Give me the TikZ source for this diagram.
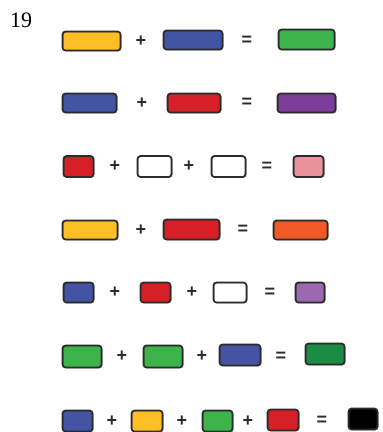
\documentclass[tikz,border=0pt]{standalone}
\usepackage{fontspec}
\setmainfont{Liberation Serif}
\newfontfamily\signfont{Liberation Sans}
\definecolor{cyellow}{HTML}{FDBE26}
\definecolor{cblue}{HTML}{4254A3}
\definecolor{cgreen}{HTML}{3DB34B}
\definecolor{cred}{HTML}{D71F27}
\definecolor{cpurple}{HTML}{7D3C98}
\definecolor{cpink}{HTML}{EA939C}
\definecolor{corange}{HTML}{F15A24}
\definecolor{clilac}{HTML}{9C68B0}
\definecolor{cdkgreen}{HTML}{1C8C44}
\definecolor{cink}{HTML}{2B2B2B}
\tikzset{
  % crayon-like box: rounded outline with a second, slightly offset stroke
  paint/.style={draw=cink, line width=1.7pt, rounded corners=3pt,
    inner sep=0pt, outer sep=0pt,
    postaction={draw=cink, draw opacity=0.5, line width=0.7pt,
      transform canvas={shift={(0.7pt,-0.6pt)}}}},
  sign/.style={text=cink, font=\signfont\bfseries\fontsize{18}{18}\selectfont,
    inner sep=0pt},
}
\begin{document}
\begin{tikzpicture}[x=1pt, y=-1pt]
\useasboundingbox (0,0) rectangle (383,432);
\fill[white] (0,0) rectangle (383,432);

\node[anchor=base west, font=\fontsize{22}{22}\selectfont, inner sep=0pt] (num) at (10,27.5) {19};

% yellow + blue = green
\node[paint, fill=cyellow, minimum width=58pt, minimum height=19pt] (a1) at (91.5,41) {};
\node[sign] (a2) at (141,41) {+};
\node[paint, fill=cblue, minimum width=59pt, minimum height=19pt] (a3) at (193,40) {};
\node[sign] (a4) at (247,41) {=};
\node[paint, fill=cgreen, minimum width=56pt, minimum height=20pt] (a5) at (306.5,39.5) {};

% blue + red = purple
\node[paint, fill=cblue, minimum width=54pt, minimum height=19pt] (b1) at (89.5,103) {};
\node[sign] (b2) at (142,103) {+};
\node[paint, fill=cred, minimum width=53pt, minimum height=19pt] (b3) at (194,103) {};
\node[sign] (b4) at (247,103) {=};
\node[paint, fill=cpurple, minimum width=58pt, minimum height=19pt] (b5) at (306.5,103) {};

% red + white + white = pink
\node[paint, fill=cred, minimum width=30pt, minimum height=21pt] (c1) at (78.5,166.5) {};
\node[sign] (c2) at (115,166.5) {+};
\node[paint, fill=white, minimum width=34pt, minimum height=21pt] (c3) at (154.5,166.5) {};
\node[sign] (c4) at (189,166.5) {+};
\node[paint, fill=white, minimum width=34pt, minimum height=21pt] (c5) at (228.5,166.5) {};
\node[sign] (c6) at (267,166.5) {=};
\node[paint, fill=cpink, minimum width=30pt, minimum height=21pt] (c7) at (308.5,166.5) {};

% yellow + red = orange
\node[paint, fill=cyellow, minimum width=55pt, minimum height=19pt] (d1) at (90,230) {};
\node[sign] (d2) at (141,230) {+};
\node[paint, fill=cred, minimum width=56pt, minimum height=20pt] (d3) at (191.5,229.5) {};
\node[sign] (d4) at (243,230) {=};
\node[paint, fill=corange, minimum width=54pt, minimum height=19pt] (d5) at (300.5,230) {};

% blue + red + white = lilac
\node[paint, fill=cblue, minimum width=30pt, minimum height=20pt] (e1) at (78.5,292.5) {};
\node[sign] (e2) at (115,292.5) {+};
\node[paint, fill=cred, minimum width=30pt, minimum height=20pt] (e3) at (155.5,292.5) {};
\node[sign] (e4) at (192,292.5) {+};
\node[paint, fill=white, minimum width=33pt, minimum height=20pt] (e5) at (230,292.5) {};
\node[sign] (e6) at (270,292.5) {=};
\node[paint, fill=clilac, minimum width=29pt, minimum height=20pt] (e7) at (310,292.5) {};

% green + green + blue = dark green
\node[paint, fill=cgreen, minimum width=39pt, minimum height=22pt] (f1) at (82,356.5) {};
\node[sign] (f2) at (122,356.5) {+};
\node[paint, fill=cgreen, minimum width=39pt, minimum height=22pt] (f3) at (163,356.5) {};
\node[sign] (f4) at (202,356.5) {+};
\node[paint, fill=cblue, minimum width=41pt, minimum height=21pt] (f5) at (240,355) {};
\node[sign] (f6) at (281,357) {=};
\node[paint, fill=cdkgreen, minimum width=39pt, minimum height=21pt] (f7) at (325,354) {};

% blue + yellow + green + red = black
\node[paint, fill=cblue, minimum width=30pt, minimum height=21pt] (g1) at (77.5,421) {};
\node[sign] (g2) at (112,421) {+};
\node[paint, fill=cyellow, minimum width=31pt, minimum height=21pt] (g3) at (147,421) {};
\node[sign] (g4) at (182,421) {+};
\node[paint, fill=cgreen, minimum width=30pt, minimum height=21pt] (g5) at (217.5,421) {};
\node[sign] (g6) at (248,421) {+};
\node[paint, fill=cred, minimum width=31pt, minimum height=21pt] (g7) at (283,420) {};
\node[sign] (g8) at (322,421) {=};
\node[paint, fill=black, minimum width=29pt, minimum height=21pt] (g9) at (363,419) {};
\end{tikzpicture}
\end{document}
